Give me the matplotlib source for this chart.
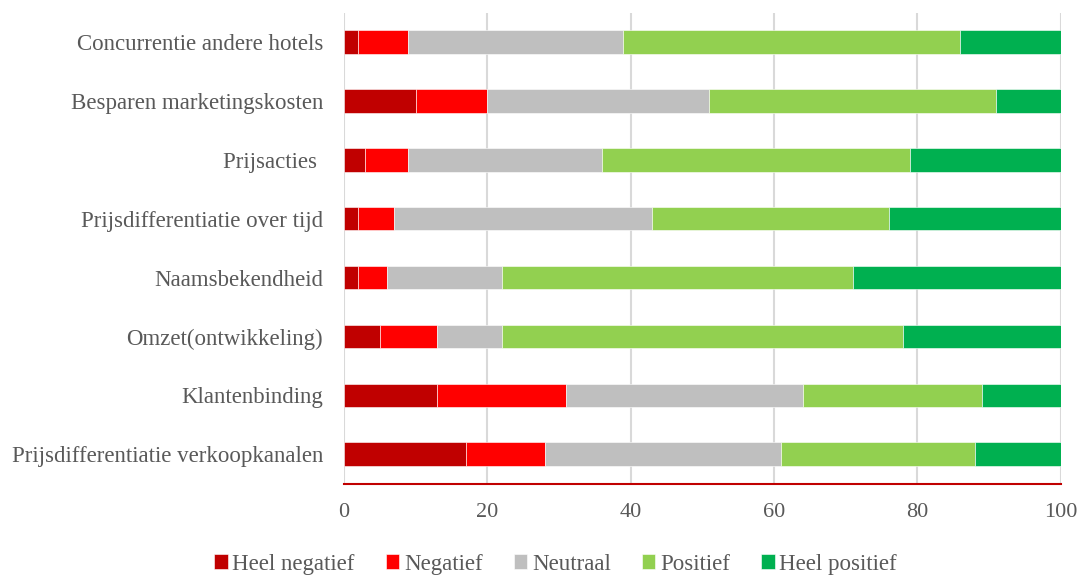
import numpy as np
import matplotlib.pyplot as plt

categories = [
    "Concurrentie andere hotels",
    "Besparen marketingskosten",
    "Prijsacties ",
    "Prijsdifferentiatie over tijd",
    "Naamsbekendheid",
    "Omzet(ontwikkeling)",
    "Klantenbinding",
    "Prijsdifferentiatie verkoopkanalen",
]
heel_negatief = [2, 10, 3, 2, 2, 5, 13, 17]
negatief = [7, 10, 6, 5, 4, 8, 18, 11]
neutraal = [30, 31, 27, 36, 16, 9, 33, 33]
positief = [47, 40, 43, 33, 49, 56, 25, 27]
heel_positief = [14, 9, 21, 24, 29, 22, 11, 12]

series = [
    ("Heel negatief", heel_negatief, "#C00000"),
    ("Negatief", negatief, "#FF0000"),
    ("Neutraal", neutraal, "#BFBFBF"),
    ("Positief", positief, "#92D050"),
    ("Heel positief", heel_positief, "#00B050"),
]

plt.rcParams['font.family'] = ['Liberation Serif', 'DejaVu Serif']
text_color = "#595959"

fig = plt.figure(figsize=(10.78, 5.75), dpi=100)
ax = fig.add_axes([0.319, 0.159, 0.665, 0.819])

y = np.arange(len(categories))
left = np.zeros(len(categories))
for name, vals, col in series:
    ax.barh(y, vals, left=left, height=0.4, color=col, label=name,
            edgecolor="white", linewidth=0.4, zorder=3)
    left += np.array(vals)

ax.set_ylim(len(categories) - 0.5, -0.5)
ax.set_xlim(0, 100)
ax.set_xticks([0, 20, 40, 60, 80, 100])
ax.set_yticks(y)
ax.set_yticklabels(categories)
ax.tick_params(axis="y", length=0, labelsize=16.5, colors=text_color, pad=15)
ax.tick_params(axis="x", length=0, labelsize=16, colors=text_color, pad=14)

ax.grid(axis="x", color="#D9D9D9", linewidth=1.5, zorder=0)
for s in ["top", "right", "left"]:
    ax.spines[s].set_visible(False)
ax.spines["bottom"].set_color("#C00000")
ax.spines["bottom"].set_linewidth(1.5)

ax.legend(loc="upper center", bbox_to_anchor=(0.295, -0.105), ncol=5, frameon=False,
          fontsize=16.5, labelcolor=text_color, handlelength=0.6, handleheight=0.6,
          handletextpad=0.2, columnspacing=1.35)

fig.savefig("out.png", dpi=100)
